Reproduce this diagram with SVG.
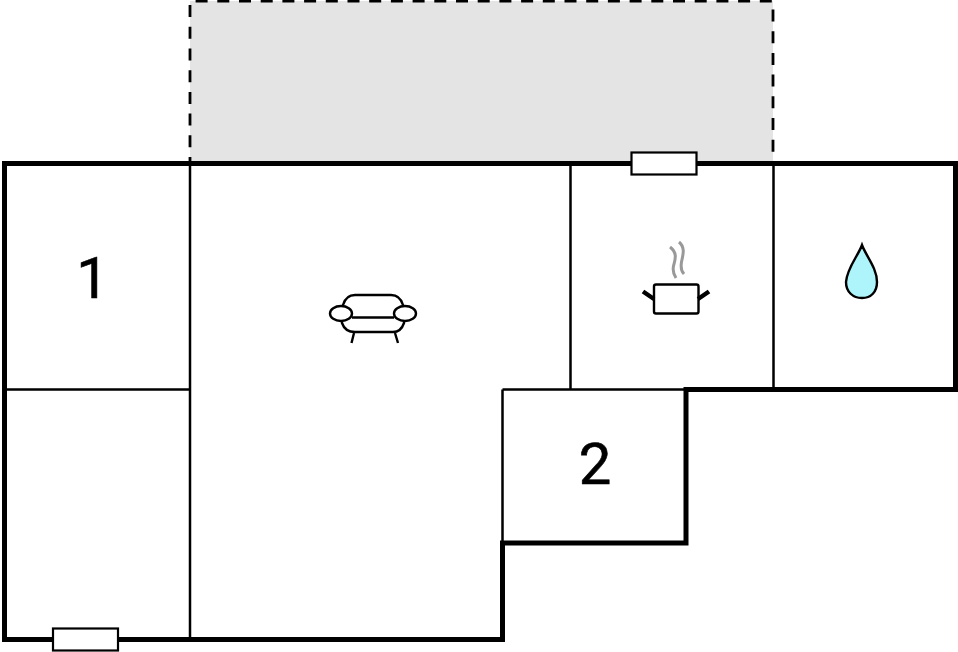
<svg xmlns="http://www.w3.org/2000/svg" width="958" height="652" viewBox="0 0 958 652">
<style>
.ext{fill:none;stroke:#000;stroke-width:5;stroke-linejoin:miter;stroke-linecap:square}
.int{fill:none;stroke:#000;stroke-width:2.500}
.win{fill:#fff;stroke:#000;stroke-width:2.200}
.ico{fill:#fff;stroke:#000;stroke-width:2.400}
.line{fill:none;stroke:#000;stroke-width:2.400}
.lbl{font-family:Roboto,"Liberation Sans",Arial,sans-serif;font-size:58px;fill:#000;stroke:#000;stroke-width:.6;text-anchor:middle}
</style>
<rect width="958" height="652" fill="#fff"/>
<g id="terrace">
<rect x="190" y="1" width="583" height="162" fill="#e4e4e4"/>
<path d="M190 163V1H773V163" fill="none" stroke="#000" stroke-width="2.800" stroke-dasharray="12 9.700" stroke-dashoffset="6"/>
</g>
<g id="walls">
<path class="int" d="M190 163V639M4 389.500H190M570.500 163V389.500M773.500 163V389M502.500 389.500H686M502.500 389.500V543"/>
<path class="ext" d="M4.500 163.500H955.500V389.500H686V543H502.500V639.500H4.500Z"/>
</g>
<g id="window-top"><rect class="win" x="631.500" y="152.500" width="65" height="22"/></g>
<g id="window-bottom"><rect class="win" x="53" y="628.500" width="65" height="22"/></g>
<g id="room-1"><text class="lbl" x="92.500" y="298">1</text></g>
<g id="room-2"><text class="lbl" x="595" y="484">2</text></g>
<g id="sofa">
<path class="line" d="M343 307V305Q346 295 355 295H391Q400 295 403 305V307M342 321V323Q345 332 355 332H393Q401 332 404 323V321"/>
<path class="line" d="M354 333L351.500 343M395 333L398 343M352 317.500H394"/>
<ellipse class="ico" cx="341" cy="313.500" rx="11" ry="7.500"/>
<ellipse class="ico" cx="405" cy="313.500" rx="11" ry="7.500"/>
</g>
<g id="pot">
<path d="M670 247C678 253 675 260 673.500 266C672.500 271 674 275 676 278M679 242C686 248 682.500 256 681.500 262C680.500 268 682 272 684 274" fill="none" stroke="#999" stroke-width="3"/>
<rect class="ico" x="654" y="284.500" width="44.500" height="29" rx="2"/>
<path d="M643 291.500L654 299M709 291.500L698 299" fill="none" stroke="#000" stroke-width="4.500"/>
</g>
<g id="water">
<path d="M862 245C858 256 847 268 846 282C846 292 853 298 862 298C871 298 877 292 877 282C877 268 866 256 862 245Z" fill="#aef5fb" stroke="#000" stroke-width="2.400"/>
</g>
</svg>
